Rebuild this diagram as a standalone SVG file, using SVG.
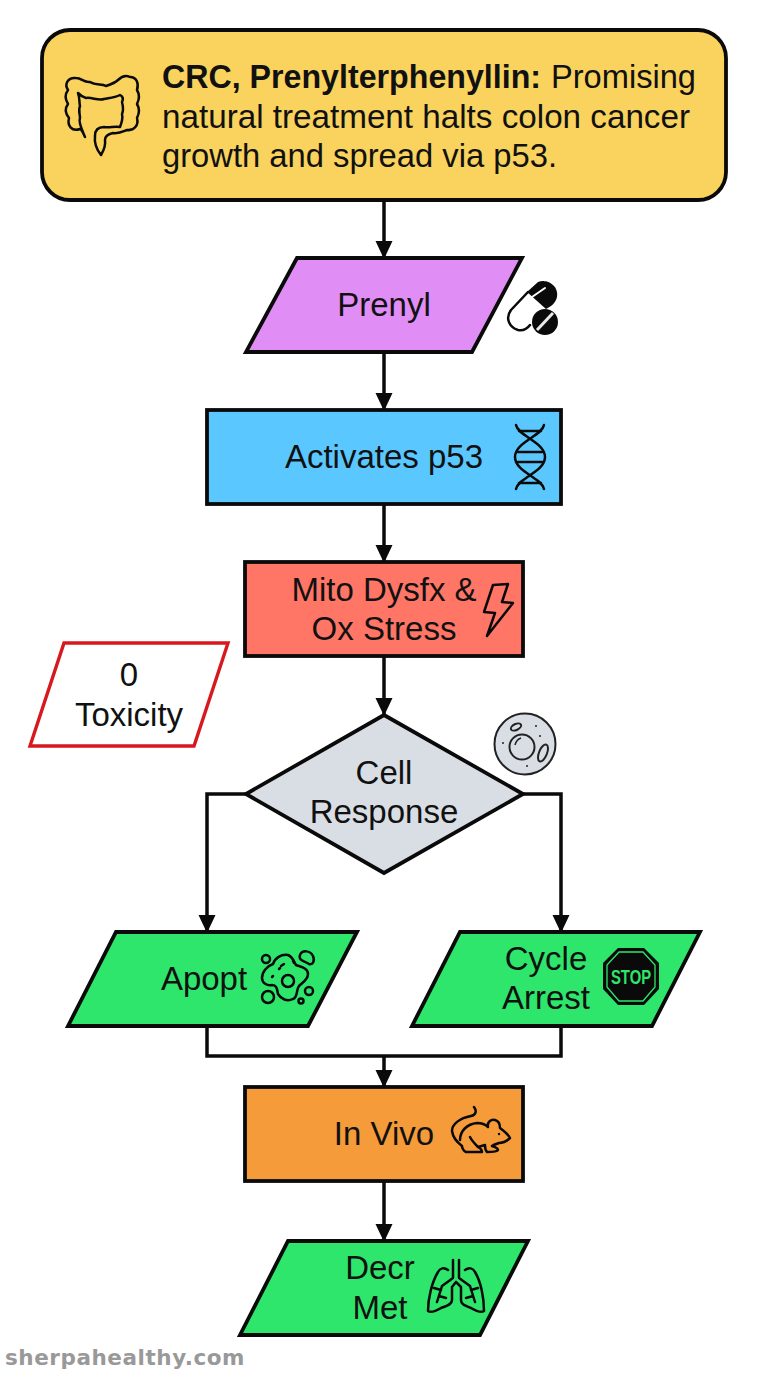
<svg xmlns="http://www.w3.org/2000/svg" width="768" height="1376" viewBox="0 0 768 1376">
<style>
text{font-family:"Liberation Sans",Arial,sans-serif;font-size:33px;fill:#111;text-anchor:middle}
.n{stroke:#0a0a0a;stroke-width:3.8;stroke-linejoin:miter}
.c{fill:none;stroke:#0a0a0a;stroke-width:3.5}
.i{fill:none;stroke:#0a0a0a;stroke-width:2.5;stroke-linecap:round;stroke-linejoin:round}
.g{fill:#2EE66B}
.l{text-anchor:start}
</style>
<defs><marker id="a" markerUnits="userSpaceOnUse" markerWidth="20" markerHeight="20" refX="17" refY="9" orient="auto"><path d="M0 0.5L18 9L0 17.5Z" fill="#0a0a0a"/></marker></defs>
<rect width="768" height="1376" fill="#fff"/>
<g id="connectors">
<path class="c" marker-end="url(#a)" d="M384 200V258"/>
<path class="c" marker-end="url(#a)" d="M384 352V410"/>
<path class="c" marker-end="url(#a)" d="M384 504V562"/>
<path class="c" marker-end="url(#a)" d="M384 656V715"/>
<path class="c" marker-end="url(#a)" d="M246 794H207V932"/>
<path class="c" marker-end="url(#a)" d="M523 794H561V932"/>
<path class="c" d="M207 1026V1056H561V1026"/>
<path class="c" marker-end="url(#a)" d="M384 1056V1087"/>
<path class="c" marker-end="url(#a)" d="M384 1181V1241"/>
</g>
<g id="header">
<rect class="n" x="42" y="30" width="684" height="170" rx="28" fill="#F9D35E"/>
<path class="i" stroke-width="2.8" d="M85 137C83 133 82 130 80 129C72 132 67 126 69 118C65 113 65 108 68 104C65 99 65 94 68 90C64 84 68 77 76 78C82 78 84 83 90 82C96 86 102 83 106 86C112 84 116 82 118 80C122 76 126 75 130 77C137 77 139 84 137 90C140 95 139 100 137 104C140 109 139 114 137 118C139 125 134 131 127 130C122 132 118 134 113 133C108 134 105 136 105 140C106 146 104 150 101 155C97 150 94 144 95 136C95 130 98 127 104 127C110 128 114 126 120 127C122 122 123 118 122 114C124 110 123 106 122 102C124 98 122 96 120 95C114 98 108 98 104 99C98 101 92 97 86 98C82 97 80 95 78 93C80 98 79 102 80 106C78 110 80 114 80 118C78 122 82 130 85 137Z"/>
<text x="162" y="88" class="l" font-weight="700" textLength="379" lengthAdjust="spacingAndGlyphs">CRC, Prenylterphenyllin:</text>
<text x="551" y="88" class="l" textLength="145" lengthAdjust="spacingAndGlyphs">Promising</text>
<text x="162" y="127.500" class="l" textLength="528" lengthAdjust="spacingAndGlyphs">natural treatment halts colon cancer</text>
<text x="162" y="167" class="l" textLength="395" lengthAdjust="spacingAndGlyphs">growth and spread via p53.</text>
</g>
<g id="prenyl">
<path class="n" d="M297 258H522L472 352H246Z" fill="#E08EF5"/>
<text x="384" y="316">Prenyl</text>
<path class="i" stroke-width="2.8" d="M528 292L511 310C505 318 509 327 518 330C523 331 527 329 530 325"/>
<path d="M527 292L538 282C545 279 553 283 556 289C559 296 556 302 551 306L546 309Z" fill="#0a0a0a"/>
<circle cx="545" cy="322" r="13" fill="#0a0a0a"/>
<path d="M537 330L553 313" stroke="#E9E9E9" stroke-width="3"/>
<path d="M532 297L545 288" stroke="#fff" stroke-width="2" fill="none" stroke-linecap="round"/>
</g>
<g id="activates">
<rect class="n" x="207" y="410" width="354" height="94" fill="#5AC8FF"/>
<text x="384" y="468">Activates p53</text>
<path class="i" stroke-width="4" d="M516 425C518 436 545 442 545 457C545 472 518 478 516 489M544 425C542 436 515 442 515 457C515 472 542 478 544 489"/>
<path class="i" stroke-width="3" d="M519 431H541M518 452H542M518 462H542M519 483H541"/>
</g>
<g id="mito">
<rect class="n" x="245" y="562" width="278" height="94" fill="#FF7566"/>
<text x="384" y="601">Mito Dysfx &amp;</text>
<text x="384" y="640">Ox Stress</text>
<path class="i" stroke-width="2.8" d="M493 585L508 584L502 602L513 603L487 636L495 613L484 612Z"/>
</g>
<g id="toxicity">
<path d="M64 643H228L194 746H30Z" fill="#fff" stroke="#D8181F" stroke-width="3.4"/>
<text x="129" y="686">0</text>
<text x="129" y="726">Toxicity</text>
</g>
<g id="cell">
<path class="n" d="M384 715L523 794L384 873L246 794Z" fill="#D9DEE5"/>
<text x="384" y="784">Cell</text>
<text x="384" y="823">Response</text>
<circle cx="525" cy="744" r="30.5" fill="#D9DEE5" stroke="#222" stroke-width="2"/>
<circle cx="522" cy="747" r="12.5" fill="none" stroke="#222" stroke-width="2"/>
<path d="M515 745C516 741 518 739 521 738" fill="none" stroke="#222" stroke-width="1.5"/>
<ellipse cx="516" cy="727" rx="5.500" ry="3" transform="rotate(-25 516 727)" fill="none" stroke="#222" stroke-width="2"/>
<ellipse cx="543" cy="753" rx="4" ry="9" transform="rotate(22 543 753)" fill="none" stroke="#222" stroke-width="2"/>
<circle cx="536" cy="726" r="1" fill="#222"/><circle cx="540" cy="736" r="1" fill="#222"/><circle cx="503" cy="743" r="1" fill="#222"/><circle cx="527" cy="766" r="1" fill="#222"/>
</g>
<g id="apopt">
<path class="n g" d="M116 932H357L308 1026H68Z"/>
<text x="204" y="990">Apopt</text>
<path class="i" d="M262 978C262 972 267 966 273 964C275 958 281 954 288 955C293 957 294 962 296 965C301 967 308 968 308 974C308 980 302 983 299 986C296 990 298 997 293 999C287 1002 281 999 278 994C277 989 277 985 272 985C267 986 262 983 262 978Z"/>
<circle cx="288" cy="981" r="6" class="i"/>
<circle cx="266" cy="959" r="4" class="i"/>
<path class="i" d="M300 955C302 950 310 950 313 956C315 961 313 965 309 964C305 961 298 961 300 955Z"/>
<circle cx="268" cy="997" r="6" class="i"/>
<circle cx="309" cy="991" r="4" class="i"/>
<circle cx="301" cy="1001" r="2.500" class="i"/>
<path class="i" d="M281 966L284 964M279 969L280 968M293 961L294 963M272 977L273 976"/>
</g>
<g id="cycle">
<path class="n g" d="M460 932H700L652 1026H412Z"/>
<text x="546" y="970">Cycle</text>
<text x="546" y="1009">Arrest</text>
<path d="M618 948H644L659 963V989L644 1005H618L603 989V963Z" fill="#0a0a0a"/>
<path d="M619 952H643L655 965V987L643 1001H619L607 987V965Z" fill="none" stroke="#2EE66B" stroke-width="1.300"/>
<text x="631" y="984" style="font-size:20px;font-weight:700;fill:#2EE66B" textLength="40" lengthAdjust="spacingAndGlyphs">STOP</text>
</g>
<g id="invivo">
<rect class="n" x="245" y="1087" width="278" height="94" fill="#F59B3A"/>
<text x="384" y="1145">In Vivo</text>
<path class="i" d="M474 1107C477 1111 476 1115 471 1116C460 1118 452 1124 452 1131C453 1138 458 1143 462 1146M460 1140C460 1131 467 1124 477 1123C482 1123 486 1125 488 1127C487 1122 491 1119 495 1120C499 1121 500 1125 500 1128C504 1131 508 1134 510 1138C507 1141 503 1143 499 1143C496 1144 493 1145 492 1146C495 1147 498 1148 498 1150C497 1152 492 1152 487 1152C485 1150 485 1147 485 1145L478 1147C480 1148 482 1150 482 1152H466C463 1151 462 1147 462 1146M470 1137C472 1141 475 1144 478 1147"/>
<circle cx="499" cy="1134" r="1.200" fill="#0a0a0a"/>
</g>
<g id="decr">
<path class="n g" d="M288 1241H528L480 1335H240Z"/>
<text x="380" y="1279">Decr</text>
<text x="380" y="1319">Met</text>
<path class="i" stroke-width="2.100" d="M453 1260V1278L442 1286M459 1260V1278L470 1286M448 1270C444 1267 440 1268 438 1272C432 1282 428 1298 428 1311C431 1313 436 1311 441 1308C446 1306 452 1305 452 1300V1287L456 1282M465 1270C469 1267 473 1268 475 1272C481 1282 484 1298 484 1311C481 1313 476 1311 471 1308C466 1306 461 1305 461 1300V1287L456 1282M442 1286L437 1302M441 1290L434 1288M439 1296L446 1298M470 1286L475 1302M471 1290L478 1288M473 1296L466 1298"/>
</g>
<text x="5" y="1365" style="font-family:'DejaVu Sans',sans-serif;font-size:21.500px;font-weight:700;fill:#999;text-anchor:start;letter-spacing:.55px">sherpahealthy.com</text>
</svg>
